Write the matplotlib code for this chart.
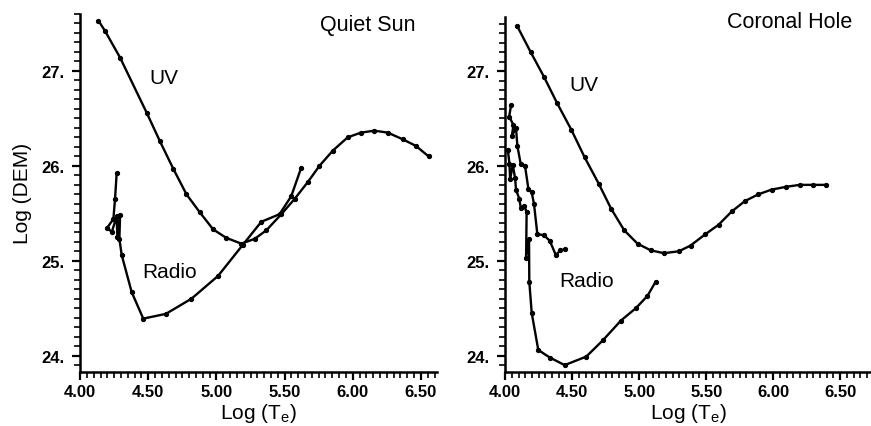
import numpy as np
import matplotlib.pyplot as plt
from matplotlib.ticker import MultipleLocator, FuncFormatter

# Quiet Sun
qs_uv_t = [4.134, 4.183, 4.293, 4.488, 4.585, 4.683, 4.780, 4.878, 4.976, 5.073, 5.183, 5.280, 5.366,
           5.476, 5.573, 5.671, 5.756, 5.854, 5.963, 6.061, 6.159, 6.256, 6.366, 6.463, 6.556]
qs_uv_dem = [27.53, 27.42, 27.14, 26.56, 26.26, 25.97, 25.70, 25.51, 25.33, 25.24, 25.18, 25.23, 25.32,
             25.49, 25.65, 25.83, 26.00, 26.16, 26.30, 26.35, 26.37, 26.35, 26.28, 26.21, 26.10]
qs_radio_t = [4.268, 4.256, 4.244, 4.200, 4.232, 4.268, 4.273, 4.293, 4.288, 4.305, 4.378, 4.463,
              4.629, 4.817, 5.012, 5.195, 5.329, 5.463, 5.549, 5.622]
qs_radio_dem = [25.92, 25.65, 25.44, 25.35, 25.30, 25.47, 25.25, 25.48, 25.23, 25.06, 24.67, 24.39,
                24.44, 24.60, 24.84, 25.17, 25.41, 25.49, 25.68, 25.98]

# Coronal Hole
ch_uv_t = [4.091, 4.190, 4.289, 4.388, 4.494, 4.593, 4.699, 4.790, 4.889, 4.988, 5.086, 5.185, 5.296,
           5.383, 5.494, 5.593, 5.691, 5.790, 5.889, 5.988, 6.099, 6.198, 6.296, 6.395]
ch_uv_dem = [27.47, 27.20, 26.94, 26.66, 26.38, 26.09, 25.81, 25.55, 25.32, 25.18, 25.11, 25.08, 25.10,
             25.16, 25.28, 25.38, 25.52, 25.63, 25.70, 25.75, 25.78, 25.80, 25.80, 25.80]
ch_radio1_t = [4.044, 4.030, 4.062, 4.049, 4.081, 4.091, 4.116, 4.148, 4.173, 4.198, 4.215, 4.240,
               4.289, 4.333, 4.378, 4.412, 4.444]
ch_radio1_dem = [26.64, 26.52, 26.43, 26.31, 26.40, 26.21, 26.02, 26.00, 25.76, 25.72, 25.60, 25.28,
                 25.27, 25.21, 25.06, 25.11, 25.12]
ch_radio2_t = [4.020, 4.032, 4.037, 4.057, 4.074, 4.081, 4.106, 4.116, 4.143, 4.160, 4.156, 4.178,
               4.180, 4.198, 4.247, 4.333, 4.444, 4.605, 4.728, 4.864, 4.975, 5.062, 5.123]
ch_radio2_dem = [26.17, 26.02, 25.86, 26.01, 25.87, 25.75, 25.65, 25.56, 25.58, 25.51, 25.03, 25.23,
                 24.78, 24.45, 24.06, 23.98, 23.90, 23.99, 24.16, 24.37, 24.50, 24.63, 24.78]

plt.rcParams['font.family'] = ['Liberation Sans', 'DejaVu Sans']

fig = plt.figure(figsize=(8.71, 4.27), dpi=100)
ax1 = fig.add_axes([0.092, 0.127, 0.41, 0.838])
ax2 = fig.add_axes([0.580, 0.127, 0.42, 0.831])


def style(ax, xmax, ytop):
    ax.set_xlim(4.0, xmax)
    ax.set_ylim(23.83, ytop)
    for s in ['top', 'right']:
        ax.spines[s].set_visible(False)
    for s in ['left', 'bottom']:
        ax.spines[s].set_linewidth(1.8)
    ax.xaxis.set_major_locator(MultipleLocator(0.5))
    ax.xaxis.set_minor_locator(MultipleLocator(0.05))
    ax.yaxis.set_major_locator(MultipleLocator(1.0))
    ax.yaxis.set_minor_locator(MultipleLocator(0.1))
    ax.xaxis.set_major_formatter(FuncFormatter(lambda v, p: '%.2f' % v))
    ax.yaxis.set_major_formatter(FuncFormatter(lambda v, p: '%d.' % round(v)))
    ax.tick_params(which='major', length=6, width=1.6, labelsize=12, pad=5)
    ax.tick_params(which='minor', length=4, width=1.2)
    ax.tick_params(axis='x', which='major', pad=3)
    for lb in ax.get_xticklabels() + ax.get_yticklabels():
        lb.set_fontweight('bold')
    ax.set_xlabel('Log (T$_\\mathregular{e}$)', fontsize=15, labelpad=1)


def curve(ax, t, d):
    ax.plot(t, d, color='black', lw=1.7, marker='o', ms=2.8)


curve(ax1, qs_uv_t, qs_uv_dem)
curve(ax1, qs_radio_t, qs_radio_dem)
style(ax1, 6.62, 27.6)
ax1.set_ylabel('Log (DEM)', fontsize=15, labelpad=7)
ax1.text(6.46, 27.49, 'Quiet Sun', fontsize=15.5, ha='right', va='center')
ax1.text(4.615, 26.93, 'UV', fontsize=15, ha='center', va='center')
ax1.text(4.655, 24.89, 'Radio', fontsize=15, ha='center', va='center')

curve(ax2, ch_uv_t, ch_uv_dem)
curve(ax2, ch_radio1_t, ch_radio1_dem)
curve(ax2, ch_radio2_t, ch_radio2_dem)
style(ax2, 6.73, 27.57)
ax2.text(6.59, 27.52, 'Coronal Hole', fontsize=15.5, ha='right', va='center')
ax2.text(4.585, 26.86, 'UV', fontsize=15, ha='center', va='center')
ax2.text(4.605, 24.79, 'Radio', fontsize=15, ha='center', va='center')

fig.savefig('out.png', dpi=100)
